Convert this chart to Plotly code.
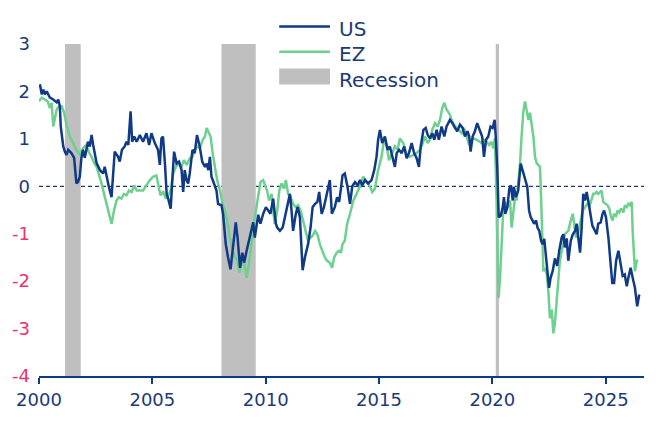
import plotly.graph_objects as go

# ---------------- data ----------------
US_YEAR = [2000.04, 2000.12, 2000.19, 2000.26, 2000.34, 2000.48, 2000.63, 2000.78, 2000.85, 2000.92,
           2000.96, 2001.07, 2001.14, 2001.21, 2001.29, 2001.43, 2001.55, 2001.65, 2001.72, 2001.80,
           2001.87, 2001.94, 2002.02, 2002.09, 2002.16, 2002.24, 2002.32, 2002.39, 2002.47, 2002.54,
           2002.69, 2002.83, 2002.90, 2002.98, 2003.08, 2003.20, 2003.27, 2003.34, 2003.49, 2003.56,
           2003.66, 2003.78, 2003.86, 2003.94, 2004.04, 2004.11, 2004.20, 2004.31, 2004.45, 2004.59,
           2004.74, 2004.86, 2004.96, 2005.11, 2005.25, 2005.33, 2005.40, 2005.47, 2005.56, 2005.63,
           2005.70, 2005.81, 2005.88, 2005.96, 2006.07, 2006.18, 2006.29, 2006.36, 2006.43, 2006.51,
           2006.58, 2006.65, 2006.77, 2006.87, 2006.97, 2007.09, 2007.20, 2007.32, 2007.40, 2007.47,
           2007.54, 2007.61, 2007.72, 2007.83, 2007.90, 2008.05, 2008.12, 2008.24, 2008.34, 2008.45,
           2008.54, 2008.68, 2008.76, 2008.87, 2008.97, 2009.05, 2009.16, 2009.23, 2009.38, 2009.45,
           2009.52, 2009.67, 2009.77, 2009.89, 2010.01, 2010.11, 2010.21, 2010.33, 2010.45, 2010.51,
           2010.63, 2010.75, 2010.85, 2010.95, 2011.07, 2011.14, 2011.21, 2011.33, 2011.41, 2011.51,
           2011.58, 2011.63, 2011.73, 2011.87, 2011.98, 2012.07, 2012.18, 2012.28, 2012.36, 2012.47,
           2012.57, 2012.66, 2012.76, 2012.83, 2012.92, 2013.05, 2013.15, 2013.24, 2013.32, 2013.39,
           2013.49, 2013.61, 2013.72, 2013.82, 2013.94, 2014.06, 2014.16, 2014.26, 2014.38, 2014.52,
           2014.67, 2014.79, 2014.89, 2014.96, 2015.04, 2015.14, 2015.26, 2015.38, 2015.48, 2015.59,
           2015.70, 2015.78, 2015.88, 2016.00, 2016.11, 2016.22, 2016.32, 2016.44, 2016.55, 2016.66,
           2016.76, 2016.84, 2016.96, 2017.06, 2017.15, 2017.25, 2017.35, 2017.44, 2017.54, 2017.64,
           2017.76, 2017.88, 2017.98, 2018.13, 2018.24, 2018.35, 2018.45, 2018.57, 2018.69, 2018.79,
           2018.90, 2018.98, 2019.04, 2019.13, 2019.23, 2019.33, 2019.45, 2019.55, 2019.63, 2019.72,
           2019.82, 2019.92, 2020.01, 2020.10, 2020.15, 2020.22, 2020.28, 2020.37, 2020.46, 2020.51,
           2020.57, 2020.66, 2020.75, 2020.82, 2020.90, 2020.95, 2021.04, 2021.14, 2021.25, 2021.33,
           2021.39, 2021.48, 2021.54, 2021.62, 2021.69, 2021.77, 2021.84, 2021.93, 2021.99, 2022.07,
           2022.15, 2022.22, 2022.29, 2022.37, 2022.42, 2022.50, 2022.57, 2022.66, 2022.76, 2022.86,
           2022.95, 2023.06, 2023.13, 2023.20, 2023.28, 2023.35, 2023.46, 2023.55, 2023.65, 2023.72,
           2023.79, 2023.87, 2023.94, 2024.01, 2024.09, 2024.16, 2024.23, 2024.31, 2024.41, 2024.53,
           2024.60, 2024.67, 2024.78, 2024.86, 2024.93, 2025.01, 2025.12, 2025.22, 2025.29, 2025.37,
           2025.46, 2025.56, 2025.66, 2025.75, 2025.84, 2025.93, 2026.00, 2026.10, 2026.19, 2026.29,
           2026.39, 2026.48]
US_VAL = [2.15, 1.94, 2.04, 1.94, 2.00, 1.87, 1.83, 1.77, 1.83, 1.69,
          1.26, 0.84, 0.73, 0.66, 0.77, 0.70, 0.60, 0.06, 0.09, 0.20,
          0.60, 0.77, 0.60, 0.81, 0.94, 0.84, 1.08, 0.87, 0.62, 0.49,
          0.34, 0.27, 0.41, 0.20, -0.01, -0.23, 0.20, 0.73, 0.62, 0.52,
          0.77, 0.84, 0.94, 0.87, 1.58, 0.94, 1.05, 0.94, 1.08, 0.94,
          1.12, 0.87, 1.12, 0.91, 0.77, 0.45, 1.01, 1.05, 0.45, -0.16,
          -0.26, -0.47, 0.13, 0.73, 0.48, 0.52, 0.34, -0.12, 0.34, 0.13,
          0.06, 0.27, 0.77, 0.70, 1.08, 0.84, 0.52, 0.41, 0.48, 0.34,
          0.62, 0.20, 0.06, -0.09, -0.37, -0.40, -0.58, -1.22, -1.50, -1.75,
          -1.36, -0.76, -1.08, -1.72, -1.40, -1.61, -1.36, -1.20, -0.85, -0.76,
          -1.08, -0.60, -0.79, -0.58, -0.44, -0.51, -0.58, -0.26, -0.79, -0.87,
          -0.94, -0.87, -0.65, -0.44, -0.16, -0.51, -0.94, -0.58, -0.44, -0.65,
          -1.50, -1.77, -1.50, -1.22, -0.87, -0.44, -0.37, -0.33, -0.12, -0.58,
          -0.44, -0.23, 0.02, 0.13, -0.58, -0.44, -0.23, -0.33, -0.05, 0.23,
          0.27, -0.01, -0.37, 0.00, 0.09, 0.02, 0.13, 0.02, 0.13, 0.06,
          0.13, 0.34, 0.62, 0.98, 1.19, 0.91, 1.05, 0.77, 0.84, 0.62,
          0.41, 0.70, 0.77, 0.70, 0.84, 0.59, 0.70, 0.91, 0.70, 0.59,
          0.41, 0.84, 1.19, 1.23, 1.08, 1.01, 1.12, 0.98, 1.19, 0.98,
          1.26, 1.05, 1.26, 1.40, 1.33, 1.23, 1.16, 1.30, 1.23, 1.05,
          1.16, 1.05, 0.73, 1.05, 1.16, 1.33, 1.19, 1.05, 0.62, 0.98,
          1.05, 1.26, 1.23, 1.40, 1.05, 0.34, -0.65, -0.62, -0.44, -0.23,
          -0.58, -0.44, -0.05, 0.02, -0.30, -0.01, -0.23, -0.09, 0.48, 0.34,
          0.20, 0.06, -0.01, -0.51, -0.65, -0.72, -0.79, -0.72, -0.87, -0.94,
          -1.15, -1.22, -1.11, -1.50, -1.72, -2.14, -1.93, -1.79, -1.52, -1.68,
          -1.36, -1.08, -1.01, -1.29, -1.10, -1.57, -1.15, -1.01, -0.94, -0.79,
          -1.08, -1.40, -0.87, -0.16, -0.30, -0.12, -0.30, -0.51, -0.83, -0.94,
          -1.01, -0.79, -0.76, -0.58, -0.51, -0.65, -1.08, -1.65, -2.04, -2.04,
          -1.57, -1.36, -1.65, -1.89, -1.86, -2.11, -1.93, -1.72, -1.93, -2.14,
          -2.53, -2.28]

EZ_YEAR = [2000.00, 2000.12, 2000.26, 2000.38, 2000.48, 2000.56, 2000.63, 2000.70, 2000.78, 2000.88,
           2001.00, 2001.11, 2001.21, 2001.36, 2001.50, 2001.65, 2001.80, 2001.94, 2002.09, 2002.19,
           2002.32, 2002.44, 2002.54, 2002.64, 2002.76, 2002.87, 2002.98, 2003.08, 2003.20, 2003.31,
           2003.42, 2003.52, 2003.64, 2003.75, 2003.86, 2003.97, 2004.09, 2004.20, 2004.31, 2004.45,
           2004.59, 2004.74, 2004.89, 2005.03, 2005.18, 2005.25, 2005.36, 2005.47, 2005.60, 2005.70,
           2005.81, 2005.92, 2006.04, 2006.14, 2006.29, 2006.39, 2006.51, 2006.65, 2006.77, 2006.87,
           2006.97, 2007.09, 2007.22, 2007.32, 2007.40, 2007.50, 2007.57, 2007.66, 2007.76, 2007.86,
           2007.98, 2008.10, 2008.20, 2008.30, 2008.42, 2008.54, 2008.64, 2008.74, 2008.84, 2008.94,
           2009.01, 2009.16, 2009.30, 2009.45, 2009.57, 2009.67, 2009.77, 2009.89, 2009.96, 2010.06,
           2010.15, 2010.26, 2010.33, 2010.40, 2010.51, 2010.60, 2010.70, 2010.81, 2010.89, 2010.99,
           2011.10, 2011.21, 2011.33, 2011.43, 2011.54, 2011.65, 2011.77, 2011.87, 2011.98, 2012.07,
           2012.18, 2012.28, 2012.39, 2012.51, 2012.61, 2012.71, 2012.83, 2012.93, 2013.02, 2013.13,
           2013.23, 2013.32, 2013.39, 2013.49, 2013.59, 2013.72, 2013.87, 2014.01, 2014.16, 2014.30,
           2014.45, 2014.60, 2014.70, 2014.82, 2014.96, 2015.11, 2015.22, 2015.34, 2015.44, 2015.56,
           2015.70, 2015.82, 2015.92, 2016.07, 2016.22, 2016.36, 2016.51, 2016.66, 2016.80, 2016.90,
           2017.03, 2017.15, 2017.25, 2017.35, 2017.47, 2017.59, 2017.69, 2017.79, 2017.88, 2017.98,
           2018.13, 2018.20, 2018.30, 2018.42, 2018.53, 2018.65, 2018.75, 2018.87, 2018.98, 2019.09,
           2019.19, 2019.31, 2019.42, 2019.53, 2019.63, 2019.75, 2019.86, 2019.97, 2020.04, 2020.11,
           2020.19, 2020.27, 2020.34, 2020.41, 2020.48, 2020.56, 2020.63, 2020.70, 2020.78, 2020.85,
           2020.92, 2021.00, 2021.07, 2021.14, 2021.22, 2021.29, 2021.36, 2021.44, 2021.51, 2021.59,
           2021.66, 2021.74, 2021.81, 2021.88, 2021.96, 2022.03, 2022.10, 2022.15, 2022.19, 2022.25,
           2022.32, 2022.40, 2022.47, 2022.54, 2022.62, 2022.69, 2022.76, 2022.84, 2022.91, 2022.98,
           2023.06, 2023.13, 2023.20, 2023.28, 2023.35, 2023.46, 2023.55, 2023.60, 2023.69, 2023.79,
           2023.90, 2023.99, 2024.09, 2024.19, 2024.28, 2024.38, 2024.45, 2024.53, 2024.60, 2024.67,
           2024.75, 2024.82, 2024.89, 2024.96, 2025.08, 2025.16, 2025.24, 2025.31, 2025.37, 2025.46,
           2025.53, 2025.60, 2025.68, 2025.78, 2025.85, 2025.93, 2026.00, 2026.07, 2026.15, 2026.19,
           2026.25, 2026.29, 2026.37, 2026.44]
EZ_VAL = [1.79, 1.87, 1.83, 1.79, 1.65, 1.76, 1.26, 1.47, 1.62, 1.69,
          1.69, 1.55, 1.30, 1.05, 0.91, 0.77, 0.66, 0.80, 0.87, 0.73,
          0.62, 0.48, 0.41, 0.27, 0.06, -0.16, -0.37, -0.51, -0.79, -0.51,
          -0.30, -0.23, -0.26, -0.16, -0.19, -0.09, -0.12, 0.02, -0.09, -0.09,
          -0.09, 0.02, 0.13, 0.20, 0.23, 0.06, -0.19, -0.12, -0.26, -0.19,
          -0.09, 0.27, 0.41, 0.48, 0.41, 0.55, 0.45, 0.59, 0.62, 0.77,
          0.84, 0.80, 0.98, 1.05, 1.23, 1.12, 1.05, 0.70, 0.41, 0.13,
          -0.09, -0.37, -0.51, -0.72, -1.08, -1.36, -1.50, -1.54, -1.82, -1.65,
          -1.50, -1.93, -1.50, -0.87, -0.51, -0.16, 0.09, 0.13, 0.02, -0.09,
          -0.30, -0.16, -0.51, -0.79, -0.51, -0.09, 0.06, -0.05, 0.13, -0.16,
          -0.23, -0.37, -0.44, -0.40, -0.51, -0.72, -0.94, -1.15, -1.08, -1.04,
          -0.94, -1.01, -1.22, -1.36, -1.50, -1.57, -1.61, -1.72, -1.50, -1.40,
          -1.36, -1.40, -1.22, -1.15, -0.80, -0.58, -0.30, -0.16, 0.00, 0.20,
          0.09, 0.00, -0.12, -0.05, 0.34, 0.62, 0.98, 0.84, 0.55, 0.70,
          0.84, 0.77, 1.01, 0.91, 0.66, 0.62, 0.66, 0.70, 0.77, 0.87,
          1.05, 0.91, 0.98, 1.19, 1.33, 1.26, 1.40, 1.65, 1.76, 1.62,
          1.51, 1.40, 1.30, 1.23, 1.19, 1.12, 1.23, 1.05, 0.87, 0.98,
          1.01, 0.98, 0.94, 0.91, 0.98, 0.94, 0.87, 0.94, 0.80, 1.01,
          -0.37, -2.36, -1.93, -1.22, -0.51, -0.33, -0.51, -0.37, -0.30, -0.87,
          -0.51, -0.23, -0.30, 0.06, 0.48, 1.05, 1.55, 1.79, 1.62, 1.40,
          1.55, 1.23, 1.05, 0.62, 0.48, 0.45, 0.41, -0.23, -1.08, -1.79,
          -1.72, -1.86, -2.21, -2.78, -2.60, -3.10, -2.88, -2.35, -2.05, -1.57,
          -1.36, -1.22, -1.01, -0.97, -0.94, -0.72, -0.58, -0.76, -1.08, -0.97,
          -0.72, -0.51, -0.44, -0.37, -0.44, -0.26, -0.16, -0.16, -0.12, -0.16,
          -0.12, -0.09, -0.33, -0.35, -0.40, -0.47, -0.65, -0.72, -0.58, -0.62,
          -0.51, -0.55, -0.47, -0.55, -0.40, -0.44, -0.37, -0.40, -0.33, -0.94,
          -1.57, -1.79, -1.57, -1.57]

REC_START = [2001.15, 2008.05, 2020.15]
REC_END = [2001.84, 2009.56, 2020.29]

Y_TICKS = [-4, -3, -2, -1, 0, 1, 2, 3]
X_TICKS = [2000, 2005, 2010, 2015, 2020, 2025]

# ---------------- style ----------------
NAVY_TXT = "#1b3a78"
US_COL = "#103a87"
EZ_COL = "#6dd08f"
PINK = "#e8336b"
GREY = "#bfbfbf"
FONT = "DejaVu Sans"

fig = go.Figure()
fig.add_trace(go.Scatter(x=EZ_YEAR, y=EZ_VAL, mode="lines", name="EZ",
                         line=dict(color=EZ_COL, width=2.5), showlegend=False))
fig.add_trace(go.Scatter(x=US_YEAR, y=US_VAL, mode="lines", name="US",
                         line=dict(color=US_COL, width=2.5), showlegend=False))

for s, e in zip(REC_START, REC_END):
    fig.add_shape(type="rect", xref="x", yref="y", x0=s, x1=e, y0=-4, y1=3,
                  fillcolor=GREY, line=dict(width=0), layer="below")

fig.add_shape(type="line", xref="paper", yref="y", x0=0, x1=1, y0=0, y1=0,
              line=dict(color=NAVY_TXT, width=1.2, dash="4px,3px"), layer="below")

# manual legend
fig.add_shape(type="line", xref="paper", yref="paper", x0=0.397, x1=0.481, y0=1.053, y1=1.053,
              line=dict(color=US_COL, width=2.5))
fig.add_shape(type="line", xref="paper", yref="paper", x0=0.397, x1=0.481, y0=0.977, y1=0.977,
              line=dict(color=EZ_COL, width=2.5))
fig.add_shape(type="rect", xref="paper", yref="paper", x0=0.397, x1=0.481, y0=0.878, y1=0.926,
              fillcolor=GREY, line=dict(width=0))
for txt, yy in [("US", 1.046), ("EZ", 0.971), ("Recession", 0.893)]:
    fig.add_annotation(text=txt, xref="paper", yref="paper", x=0.493, y=yy,
                       xanchor="left", yanchor="middle", showarrow=False,
                       font=dict(family=FONT, size=20, color=NAVY_TXT))

ticktext = [f'<span style="color:{PINK}">{v}</span>' if v < 0 else str(v) for v in Y_TICKS]

fig.update_layout(
    width=668, height=431,
    margin=dict(l=39, r=24, t=44, b=55),
    paper_bgcolor="white", plot_bgcolor="white",
    font=dict(family=FONT, size=18, color=NAVY_TXT),
    xaxis=dict(range=[2000, 2026.69], tickvals=X_TICKS, ticktext=[str(v) for v in X_TICKS],
               showgrid=False, zeroline=False, showline=True, linecolor=US_COL, linewidth=1.5,
               ticks="outside", ticklen=6, tickwidth=1.5, tickcolor=US_COL,
               ticklabelstandoff=1, tickfont=dict(family=FONT, size=18, color=NAVY_TXT)),
    yaxis=dict(range=[-4, 3], tickvals=Y_TICKS, ticktext=ticktext,
               showgrid=False, zeroline=False, showline=False, ticks="",
               ticklabelstandoff=8, tickfont=dict(family=FONT, size=18, color=NAVY_TXT)),
)

fig.write_html("out.html")
